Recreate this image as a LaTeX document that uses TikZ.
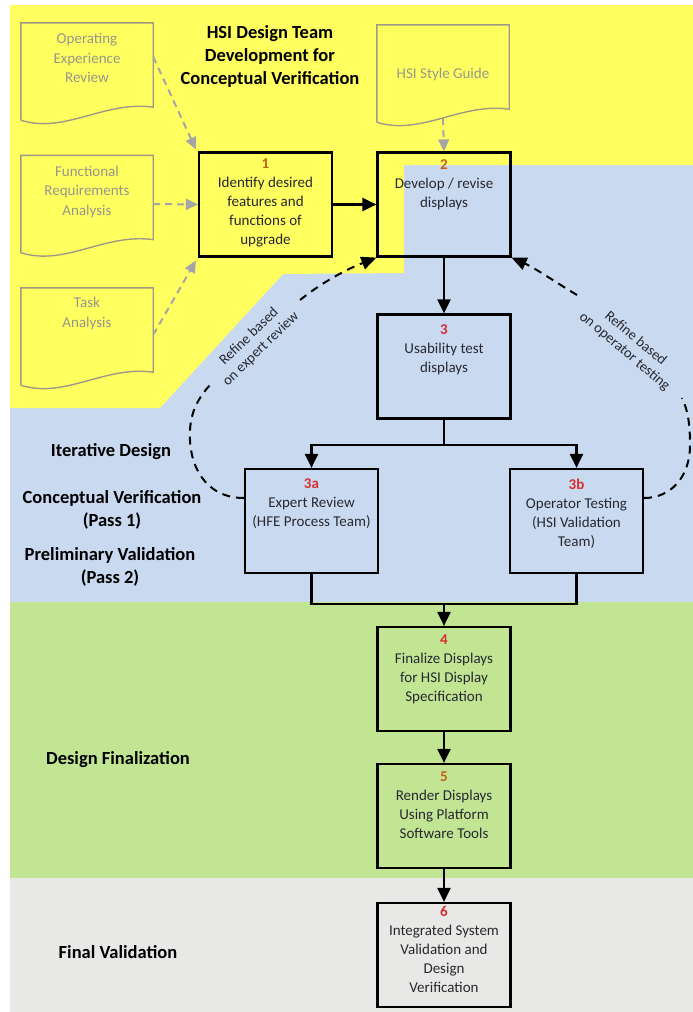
\documentclass[tikz,border=0pt]{standalone}
\usepackage{fontspec}
\setmainfont{Carlito}
\usetikzlibrary{arrows.meta,calc}

\definecolor{bandyellow}{RGB}{255,255,96}
\definecolor{bandblue}{RGB}{201,218,240}
\definecolor{bandgreen}{RGB}{194,229,148}
\definecolor{bandgray}{RGB}{232,232,230}
\definecolor{docgray}{RGB}{158,154,132}
\definecolor{doctxt}{RGB}{150,150,140}
\definecolor{stepred}{RGB}{218,45,50}
\definecolor{steporange}{RGB}{196,96,22}
\definecolor{inputgray}{RGB}{165,165,165}
\definecolor{boxtxt}{RGB}{40,40,48}

\tikzset{
  stepbox/.style={draw=black, line width=2.2pt, minimum width=133pt, minimum height=104pt, inner sep=0pt},
  steptext/.style={anchor=north, align=center, inner sep=0pt, text=boxtxt, font=\fontsize{15}{19}\selectfont},
  docarea/.style={minimum width=132pt, minimum height=97pt, inner sep=0pt},
  docline/.style={draw=docgray, line width=1.4pt},
  doctext/.style={align=center, text=doctxt, font=\fontsize{15}{19.5}\selectfont, inner sep=0pt},
  phase/.style={align=center, font=\bfseries\fontsize{18.5}{23}\selectfont, inner sep=0pt},
  flow/.style={line width=2.2pt, draw=black},
  flowarrow/.style={flow, -{Triangle[length=14pt,width=13pt]}},
  inputarrow/.style={draw=inputgray, line width=2pt, dash pattern=on 7pt off 5pt, -{Triangle[length=12pt,width=11pt]}},
  refine/.style={draw=black, line width=2pt, dash pattern=on 8pt off 6pt},
  refinearrow/.style={refine, -{Triangle[length=15pt,width=13pt]}},
  refinetext/.style={align=center, font=\fontsize{14.5}{17}\selectfont, text=boxtxt, inner sep=0pt},
}

% document symbol: rectangle with a wavy lower edge
\newcommand\docoutline[1]{%
  \draw[docline] (#1.south west) -- (#1.north west) -- (#1.north east)
    -- ($(#1.south east)+(0,-13)$)
    .. controls ($(#1.south east)+(-48,-20)$) and ($(#1.south west)+(44,14)$) .. (#1.south west);
}

\begin{document}
\begin{tikzpicture}[x=1pt,y=-1pt]
\useasboundingbox (0,0) rectangle (693,1012);

% phase bands
\fill[white] (0,0) rectangle (693,1012);
\fill[bandblue] (10,160) rectangle (693,602);
\fill[bandgreen] (10,602) rectangle (693,878);
\fill[bandgray] (10,878) rectangle (693,1012);
\fill[bandyellow] (10,5) -- (693,5) -- (693,165) -- (404,165) -- (404,273)
  -- (283,274) -- (160,408) -- (10,408) -- cycle;

% titles and phase labels
\node[phase] (title) at (270,56) {HSI Design Team\\Development for\\Conceptual Verification};
\node[phase] (iter) at (111,452) {Iterative Design};
\node[phase] (pass1) at (112,509.5) {Conceptual Verification\\(Pass 1)};
\node[phase] (pass2) at (110,566.5) {Preliminary Validation\\(Pass 2)};
\node[phase] (final) at (118,760) {Design Finalization};
\node[phase] (fval) at (118,952) {Final Validation};

% input documents
\node[docarea] (oer) at (87,71.5) {};
\node[docarea] (fra) at (87,204) {};
\node[docarea] (task) at (87,336.5) {};
\node[docarea] (guide) at (443,73.5) {};
\docoutline{oer}
\docoutline{fra}
\docoutline{task}
\docoutline{guide}
\node[doctext] (oert) at (87,58) {Operating\\Experience\\Review};
\node[doctext] (frat) at (87,191.5) {Functional\\Requirements\\Analysis};
\node[doctext] (taskt) at (87,313.5) {Task\\Analysis};
\node[doctext] (guidet) at (443,74) {HSI Style Guide};

% process steps
\node[stepbox] (b1) at (265.5,204.5) {};
\node[stepbox] (b2) at (444,204.5) {};
\node[stepbox] (b3) at (444,366.5) {};
\node[stepbox] (b3a) at (311.5,521) {};
\node[stepbox] (b3b) at (576.5,521) {};
\node[stepbox] (b4) at (444,679) {};
\node[stepbox] (b5) at (444,816) {};
\node[stepbox] (b6) at (444,955) {};

\node[steptext] (t1) at ($(b1.north)+(0,7)$) {{\bfseries\color{steporange}1}\\Identify desired\\features and\\functions of\\upgrade};
\node[steptext] (t2) at ($(b2.north)+(0,8)$) {{\bfseries\color{steporange}2}\\Develop / revise\\displays};
\node[steptext] (t3) at ($(b3.north)+(0,11)$) {{\bfseries\color{stepred}3}\\Usability test\\displays};
\node[steptext] (t3a) at ($(b3a.north)+(0,11)$) {{\bfseries\color{stepred}3a}\\Expert Review\\(HFE Process Team)};
\node[steptext] (t3b) at ($(b3b.north)+(0,11)$) {{\bfseries\color{stepred}3b}\\Operator Testing\\(HSI Validation\\Team)};
\node[steptext] (t4) at ($(b4.north)+(0,9)$) {{\bfseries\color{stepred}4}\\Finalize Displays\\for HSI Display\\Specification};
\node[steptext] (t5) at ($(b5.north)+(0,9)$) {{\bfseries\color{steporange}5}\\Render Displays\\Using Platform\\Software Tools};
\node[steptext] (t6) at ($(b6.north)+(0,4)$) {{\bfseries\color{stepred}6}\\Integrated System\\Validation and\\Design\\Verification};

% inputs into steps 1 and 2
\draw[inputarrow] ($(oer.north east)+(0,34)$) -- ($(b1.north west)+(-2,-2)$);
\draw[inputarrow] (fra.east) -- (b1.west);
\draw[inputarrow] ($(task.north east)+(0,47)$) -- ($(b1.south west)+(-2,3)$);
\draw[inputarrow] ($(guide.south)+(0,-4)$) -- (b2.north);

% main flow
\coordinate (j1) at ($(b3.south)+(0,25)$);
\coordinate (j2) at ($(b3.south)+(0,184)$);
\draw[flowarrow] (b1.east) -- (b2.west);
\draw[flowarrow] (b2.south) -- (b3.north);
\draw[flow] (b3.south) -- (j1);
\draw[flowarrow] (j1) -| (b3a.north);
\draw[flowarrow] (j1) -| (b3b.north);
\draw[flow] (b3a.south) |- (j2);
\draw[flow] (b3b.south) |- (j2);
\draw[flowarrow] (j2) -- (b4.north);
\draw[flowarrow] (b4.south) -- (b5.north);
\draw[flowarrow] (b5.south) -- (b6.north);

% refinement loops back to step 2
\coordinate (la) at ($(b3a.west)+(0,-23)$);
\coordinate (lb) at (210,385);
\coordinate (lc) at (300,300);
\draw[refine] (la) .. controls (205,498) and (188,465) .. (190,430)
  .. controls (191,412) and (198,398) .. (lb);
\draw[refinearrow] (lc) .. controls (325,280) and (350,268) .. (b2.south west);
\node[refinetext, rotate=44] (lt) at (255,343) {Refine based\\on expert review};

\coordinate (ra) at ($(b3b.east)+(0,-23)$);
\coordinate (rb) at (682,398);
\coordinate (rc) at (577,295);
\draw[refine] (ra) .. controls (670,498) and (690,478) .. (690,445)
  .. controls (690,425) and (688,410) .. (rb);
\draw[refinearrow] (rc) .. controls (560,285) and (535,268) .. (b2.south east);
\node[refinetext, rotate=-40] (rt) at (630,345) {Refine based\\on operator testing};
\end{tikzpicture}
\end{document}
